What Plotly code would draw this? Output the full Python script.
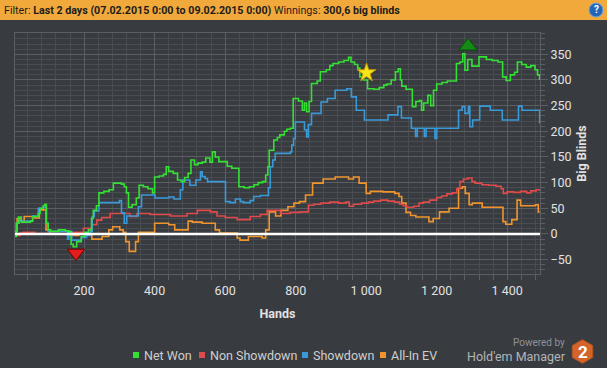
import math
import plotly.graph_objects as go

# ---------------- data ----------------
series_names = ["Net Won", "Non Showdown", "Showdown", "All-In EV"]

net_hands = [4, 8, 14, 22, 48, 54, 70, 75, 84, 89, 93, 98, 105, 127, 147, 157, 163, 169, 179, 192,
             202, 212, 221, 226, 235, 242, 256, 271, 283, 306, 314, 320, 326, 336, 348, 356, 368, 381,
             394, 400, 413, 425, 433, 440, 453, 465, 475, 485, 495, 503, 513, 523, 535, 545, 557, 564,
             572, 582, 599, 606, 619, 639, 654, 669, 682, 694, 706, 715, 721, 725, 738, 748, 755, 768,
             775, 785, 793, 808, 819, 825, 831, 838, 845, 861, 870, 887, 897, 906, 922, 937, 950, 957,
             967, 976, 982, 992, 1004, 1022, 1037, 1050, 1059, 1071, 1083, 1091, 1097, 1101, 1113,
             1131, 1141, 1151, 1157, 1163, 1175, 1183, 1191, 1200, 1215, 1230, 1256, 1266, 1274,
             1280, 1288, 1300, 1320, 1341, 1357, 1374, 1387, 1397, 1409, 1421, 1429, 1441, 1454,
             1467, 1479, 1486, 1492]
net_won = [-5, 21, 33, 23, 25, 34, 40, 50, 55, 58, 21, 8, 5, 8, 6, 4, -20, -25, -15, -5,
           3, 8, 30, 46, 55, 80, 83, 86, 99, 97, 92, 80, 52, 57, 70, 95, 92, 88,
           80, 111, 113, 116, 131, 122, 118, 105, 102, 110, 118, 144, 135, 138, 140, 148, 140, 160,
           150, 141, 141, 132, 128, 92, 90, 92, 96, 100, 102, 115, 131, 163, 183, 188, 193, 200,
           204, 206, 264, 259, 241, 255, 238, 258, 293, 298, 316, 320, 328, 332, 335, 338, 344, 335,
           330, 323, 306, 300, 283, 282, 285, 290, 292, 300, 316, 322, 300, 288, 282,
           248, 258, 260, 241, 255, 270, 250, 280, 292, 295, 298, 332, 335, 351,
           319, 340, 327, 345, 340, 338, 335, 306, 299, 310, 315, 335, 330, 325,
           328, 320, 310, 300]

sd_hands = [4, 8, 16, 38, 54, 70, 84, 93, 98, 150, 153, 157, 165, 177, 192, 207, 217, 223, 229, 242,
            286, 300, 306, 314, 321, 346, 354, 363, 396, 401, 435, 440, 455, 473, 480, 500, 517, 530,
            535, 543, 550, 594, 601, 614, 629, 643, 652, 671, 681, 700, 723, 728, 735, 742, 785, 789,
            794, 799, 825, 831, 836, 845, 872, 890, 912, 945, 958, 972, 995, 1062, 1090, 1100, 1128,
            1140, 1145, 1165, 1170, 1195, 1200, 1262, 1272, 1280, 1290, 1294, 1302, 1322, 1352,
            1386, 1432, 1442, 1485, 1492]
showdown = [0, 21, 25, 25, 35, 50, 52, 21, 5, 5, -10, 5, -12, -12, -7, -3, 5, 34, 45, 61,
            61, 65, 41, 21, 35, 35, 53, 76, 76, 70, 70, 72, 68, 86, 105, 95, 105, 121,
            112, 108, 102, 102, 63, 61, 68, 63, 61, 65, 73, 75, 90, 131, 144, 157, 160, 173,
            186, 218, 203, 189, 213, 235, 257, 264, 280, 283, 267, 241, 222, 232, 248, 226, 206,
            190, 206, 190, 206, 186, 206, 241, 248, 235, 248, 209, 222, 249, 241,
            222, 249, 241, 241, 215]

nsd_hands = [4, 12, 18, 27, 60, 112, 160, 198, 222, 236, 250, 274, 330, 350, 387, 445, 492, 521, 558,
             577, 600, 634, 671, 700, 719, 757, 784, 813, 836, 851, 872, 897, 922, 942, 952, 964, 987,
             1006, 1021, 1041, 1061, 1080, 1095, 1105, 1115, 1135, 1150, 1162, 1180, 1200, 1214,
             1229, 1244, 1257, 1266, 1276, 1289, 1300, 1309, 1328, 1348, 1368, 1383, 1389, 1400,
             1418, 1438, 1455, 1467, 1482, 1492]
non_showdown = [0, -3, 2, 3, 1, 0, 3, 11, 18, 27, 32, 40, 34, 40, 38, 35, 40, 46, 43,
                35, 32, 28, 34, 38, 46, 40, 42, 43, 56, 58, 60, 62, 60, 62, 54, 58, 60,
                62, 64, 66, 64, 62, 58, 55, 52, 54, 60, 62, 66, 71, 74,
                78, 80, 88, 102, 107, 109, 102, 99, 96, 95, 93, 88, 79, 82,
                81, 83, 80, 84, 86, 84]

ev_hands = [4, 10, 18, 30, 60, 73, 92, 102, 157, 185, 222, 251, 270, 281, 301, 311, 318, 328, 346, 354,
            400, 440, 457, 495, 507, 535, 572, 584, 634, 642, 666, 705, 715, 725, 743, 758, 778, 795,
            811, 828, 848, 878, 912, 950, 964, 980, 1000, 1012, 1047, 1081, 1093, 1101, 1113, 1126,
            1141, 1178, 1190, 1208, 1235, 1262, 1273, 1281, 1292, 1301, 1329, 1383, 1388, 1396,
            1413, 1428, 1438, 1480, 1488, 1492]
allin_ev = [5, 30, 25, 34, 31, 47, 8, 0, -3, 0, -10, -5, 8, 14, 8, 3, -15, -34, -15, 3,
            21, 18, 8, 25, 23, 21, 8, 2, -8, -12, -5, -8, 8, 43, 35, 46, 53, 60,
            63, 76, 99, 107, 111, 107, 111, 99, 79, 83, 82, 79, 73, 60, 42, 36,
            33, 24, 30, 43, 50, 89, 92, 79, 57, 60, 52, 52, 24, 19,
            28, 66, 55, 57, 43, 43]

# special markers: minimum, current, maximum
marker_hands = [177, 1001, 1289]
marker_values = [-37, 314, 366]

x_tick_vals = [200, 400, 600, 800, 1000, 1200, 1400]
x_tick_text = ["200", "400", "600", "800", "1 000", "1 200", "1 400"]
y_tick_vals = [-50, 0, 50, 100, 150, 200, 250, 300, 350]

# ---------------- styles / layout ----------------
colors = ["#35e035", "#e04a4a", "#3a9ad8", "#f0952e"]
BG = "#383b3f"
GRID_MAJOR = "#5b5e62"
GRID_MINOR = "#494c50"
TXT = "#e2e2e2"
FONT = "Roboto"

W, H = 607, 368
L, R, T, B = 15, 67, 33, 94
PW, PH = W - L - R, H - T - B


def px(x):
    return (x - L) / PW


def py(y):
    return 1 - (y - T) / PH


fig = go.Figure()

series = [
    (ev_hands, allin_ev, 3),
    (nsd_hands, non_showdown, 1),
    (sd_hands, showdown, 2),
    (net_hands, net_won, 0),
]
for xs, ys, ci in series:
    fig.add_trace(go.Scatter(
        x=xs, y=ys, mode="lines", name=series_names[ci],
        line=dict(color=colors[ci], width=1.6, shape="hv"),
        showlegend=False, hoverinfo="skip"))

marker_styles = [
    dict(symbol="triangle-down", size=15, color="#e41c1c", line=dict(color="#7a0000", width=1)),
    dict(symbol="star", size=14, color="#f7e61a", line=dict(color="#c89a00", width=1)),
    dict(symbol="triangle-up", size=16, color="#168a16", line=dict(color="#0a4a0a", width=1)),
]
for i in range(len(marker_hands)):
    fig.add_trace(go.Scatter(
        x=[marker_hands[i]], y=[marker_values[i]], mode="markers",
        marker=marker_styles[i], showlegend=False, hoverinfo="skip", cliponaxis=False))

shapes = []
annotations = []

# zero line
shapes.append(dict(type="line", xref="paper", yref="y", x0=0, x1=1, y0=0, y1=0,
                   line=dict(color="#ffffff", width=2.5), layer="above"))

# header bar
shapes.append(dict(type="rect", xref="paper", yref="paper", x0=px(-2), x1=px(W + 2),
                   y0=py(20), y1=py(-2), fillcolor="#f2a93b", line=dict(width=0), layer="below"))
annotations.append(dict(
    xref="paper", yref="paper", x=px(2), y=py(10.5), xanchor="left", yanchor="middle",
    text="Filter: <b>Last 2 days (07.02.2015 0:00 to 09.02.2015 0:00)</b> Winnings: <b>300,6 big blinds</b>",
    showarrow=False, font=dict(family=FONT, size=10.7, color="#1c1c1c")))
# help icon
shapes.append(dict(type="circle", xref="paper", yref="paper", x0=px(589), x1=px(603),
                   y0=py(17), y1=py(3), fillcolor="#2366b8", line=dict(color="#6fa6e0", width=1)))
annotations.append(dict(xref="paper", yref="paper", x=px(596), y=py(10), text="<b>?</b>",
                        showarrow=False, xanchor="center", yanchor="middle",
                        font=dict(family=FONT, size=10, color="#ffffff")))

# legend (manual, square swatches)
legend_x = [133, 199, 302, 380]
for name, col, lx in zip(series_names, colors, legend_x):
    shapes.append(dict(type="rect", xref="paper", yref="paper", x0=px(lx), x1=px(lx + 6),
                       y0=py(358), y1=py(352), fillcolor=col, line=dict(width=0)))
    annotations.append(dict(xref="paper", yref="paper", x=px(lx + 9), y=py(355),
                            xanchor="left", yanchor="middle", text=name, showarrow=False,
                            font=dict(family=FONT, size=12.5, color="#cfcfcf")))

# Powered by Hold'em Manager 2
annotations.append(dict(xref="paper", yref="paper", x=px(567), y=py(342), xanchor="right",
                        yanchor="middle", text="Powered by", showarrow=False,
                        font=dict(family=FONT, size=10, color="#8f9295")))
annotations.append(dict(xref="paper", yref="paper", x=px(568), y=py(356), xanchor="right",
                        yanchor="middle", text="Hold'em Manager", showarrow=False,
                        font=dict(family=FONT, size=12.5, color="#b3b5b8")))
cx, cy, r = 582.5, 351.5, 11.8
pts = []
for k in range(6):
    a = math.radians(90 - 60 * k)
    pts.append((px(cx + r * math.cos(a)), py(cy - r * math.sin(a))))
path = "M " + " L ".join(f"{a:.5f},{b:.5f}" for a, b in pts) + " Z"
shapes.append(dict(type="path", xref="paper", yref="paper", path=path,
                   fillcolor="#d4652a", line=dict(color="#b8541f", width=1)))
annotations.append(dict(xref="paper", yref="paper", x=px(cx), y=py(cy + 0.5), text="<b>2</b>",
                        showarrow=False, xanchor="center", yanchor="middle",
                        font=dict(family=FONT, size=17, color="#ffffff")))

fig.update_layout(
    width=W, height=H,
    margin=dict(l=L, r=R, t=T, b=B, pad=0),
    paper_bgcolor=BG, plot_bgcolor=BG,
    shapes=shapes, annotations=annotations,
    showlegend=False,
    font=dict(family=FONT, color=TXT, size=12),
)

fig.update_xaxes(
    range=[4, 1493], tickvals=x_tick_vals, ticktext=x_tick_text,
    showgrid=True, gridcolor=GRID_MAJOR, gridwidth=1,
    minor=dict(dtick=40, tick0=0, showgrid=True, gridcolor=GRID_MINOR, gridwidth=1,
               ticks="outside", ticklen=5, tickcolor=GRID_MAJOR),
    ticks="outside", ticklen=5, tickcolor=GRID_MAJOR,
    showline=True, mirror=True, linecolor=GRID_MAJOR, linewidth=1,
    zeroline=False,
    tickfont=dict(family=FONT, size=12.5, color=TXT),
    title=dict(text="<b>Hands</b>", font=dict(family=FONT, size=12.5, color=TXT), standoff=12),
    automargin=False,
)
fig.update_yaxes(
    range=[-78, 391.5], tickvals=y_tick_vals, side="right",
    showgrid=True, gridcolor=GRID_MAJOR, gridwidth=1,
    minor=dict(dtick=10, tick0=0, showgrid=True, gridcolor=GRID_MINOR, gridwidth=1,
               ticks="outside", ticklen=4, tickcolor=GRID_MAJOR),
    ticks="outside", ticklen=7, tickcolor=GRID_MAJOR,
    showline=True, mirror=True, linecolor=GRID_MAJOR, linewidth=1,
    zeroline=False,
    tickfont=dict(family=FONT, size=12.5, color=TXT),
    title=dict(text="<b>Big Blinds</b>", font=dict(family=FONT, size=12.5, color=TXT), standoff=6),
    automargin=False,
)

fig.write_html(
    "out.html",
    config={"displayModeBar": False},
    post_script="document.body.style.margin='0';document.body.style.padding='0';"
                "document.body.style.overflow='hidden';",
)
